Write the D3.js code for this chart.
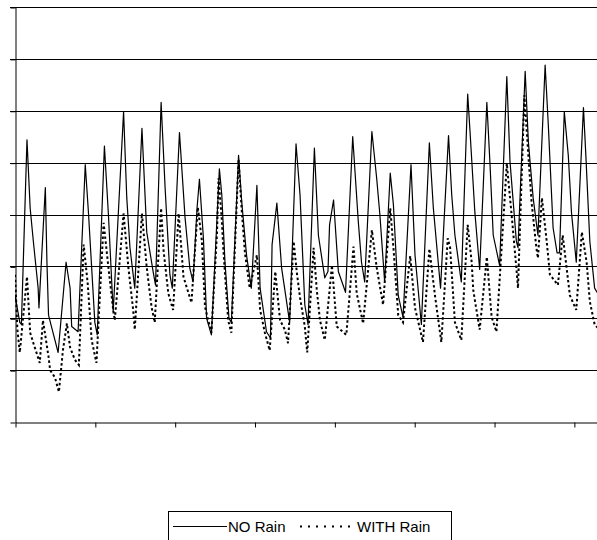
<!DOCTYPE html>
<html>
<head>
<meta charset="utf-8">
<script src="https://cdn.jsdelivr.net/npm/d3@7"></script>
<style>
  html, body { margin: 0; padding: 0; background: #fff; }
  svg { display: block; }
  text { font-family: Arial, "Liberation Sans", sans-serif; }
</style>
</head>
<body>
<svg id="chart" width="597" height="540"></svg>
<script>
// Hourly surface temperature, with and without rain (hour index, value)
const noRainHours = [0,6,8,15,19,23,29,30,38,40,42,46,54,64,69,71,79,88,92,100,103,112,117,123,136,140,144,150,159,165,173,176,183,188,194,197,206,213,219,223,228,231,236,240,246,256,259,263,268,271,280,284,290,296,303,307,315,320,322,328,334,344,352,357,363,367,375,380,388,392,394,399,405,414,423,430,434,438,447,453,457,463,470,474,480,486,496,501,509,519,524,533,543,547,551,559,567,570,576,582,591,595,599,607,616,620,628,630,639,643,649,655,664,668,674,679,682,688,693,697,703,712,715,720,726,733];
const noRainTemps = [12.2,9.6,9.4,27.2,20.6,17.4,12.9,11.0,22.6,15.4,10.3,9.1,6.7,15.4,12.9,9.2,8.7,24.8,20.2,9.6,8.4,26.6,20.0,10.6,29.9,21.6,16.8,12.9,28.3,18.3,14.5,13.2,30.8,22.6,14.2,12.9,27.9,19.7,14.8,13.5,20.6,23.4,17.7,10.0,8.4,24.4,21.9,15.4,10.0,9.6,25.7,21.2,16.1,12.9,22.8,12.9,8.7,8.1,17.1,21.1,14.8,9.6,26.8,21.9,11.3,9.4,26.4,18.0,13.9,14.5,19.0,21.4,14.5,12.5,27.5,19.3,15.4,13.5,28.0,23.5,20.0,13.5,24.0,20.9,12.2,10.1,24.8,16.1,9.4,26.9,20.6,12.9,27.6,21.9,18.0,13.5,31.6,27.9,20.2,14.7,30.8,24.8,18.0,15.1,33.3,25.1,17.4,16.8,33.8,27.0,21.6,18.0,34.4,28.6,18.7,16.3,16.3,29.9,25.7,20.2,15.4,30.3,25.7,17.4,12.9,12.0];

const withRainHours = [0,3,6,15,19,23,31,35,42,44,50,55,60,65,69,75,80,86,91,96,102,111,117,123,125,136,142,148,150,159,165,171,175,183,186,192,198,205,211,221,229,234,238,242,246,253,255,259,261,267,271,280,284,288,294,303,307,313,319,326,332,338,342,349,353,357,363,366,374,378,382,388,397,403,415,424,428,436,447,453,461,470,474,480,486,495,501,511,519,526,534,542,545,551,559,567,572,574,582,591,597,603,616,622,628,630,638,643,647,653,655,660,666,670,680,686,691,695,703,710,716,720,726,733];
const withRainTemps = [14.2,8.9,6.7,14.0,8.6,7.6,5.7,9.8,6.3,5.0,4.3,2.9,6.9,9.5,7.2,6.0,5.5,17.1,13.4,7.9,5.7,19.2,14.9,10.8,9.8,20.1,14.9,10.8,8.9,20.1,14.9,11.1,9.6,20.6,16.6,12.4,10.8,20.1,14.0,11.5,20.7,17.5,11.1,9.8,8.6,18.2,23.5,19.5,16.6,9.8,8.6,25.3,20.4,16.3,12.9,16.1,10.8,8.6,6.9,14.5,9.8,8.9,7.6,17.4,14.4,12.0,9.2,6.7,16.8,12.7,9.8,7.9,15.1,9.2,8.4,16.9,12.4,9.5,18.5,14.9,11.3,20.6,16.8,10.3,9.6,16.0,11.0,7.7,16.7,12.2,7.7,17.7,16.8,9.6,7.9,19.0,15.4,12.7,8.9,15.9,10.1,8.7,24.9,20.0,14.8,12.9,31.5,25.7,21.2,16.8,15.8,21.6,17.4,14.2,13.2,18.0,14.8,12.2,10.8,18.3,15.4,11.6,9.4,8.8];

const tickHours = [0, 100, 200, 300, 400, 500, 600, 700];
const gridTemps = [5, 10, 15, 20, 25, 30, 35, 40];
const legendLabels = ["NO Rain", "WITH Rain"];

const svg = d3.select("#chart");
const W = 597;

const x = d3.scaleLinear().domain([0, 744]).range([15, 609]);
const y = d3.scaleLinear().domain([0, 40]).range([422, 7]);

// horizontal gridlines
svg.append("g")
  .selectAll("line")
  .data(gridTemps)
  .join("line")
  .attr("x1", 10).attr("x2", W)
  .attr("y1", d => Math.round(y(d)) + 0.5)
  .attr("y2", d => Math.round(y(d)) + 0.5)
  .attr("stroke", "#000")
  .attr("stroke-width", 1);

// left axis: short outward ticks, no labels
const yAxis = svg.append("g")
  .attr("transform", "translate(15.5,0.5)")
  .call(d3.axisLeft(y).tickValues([0].concat(gridTemps)).tickSize(5).tickSizeOuter(0).tickFormat(""));
yAxis.select(".domain").attr("stroke", "#000");
yAxis.selectAll(".tick line").attr("stroke", "#000");

// bottom axis
const xAxis = svg.append("g")
  .attr("transform", "translate(0.5," + (Math.round(y(0)) + 0.5) + ")")
  .call(d3.axisBottom(x).tickValues(tickHours).tickSize(5).tickSizeOuter(0).tickFormat(""));
xAxis.select(".domain").attr("stroke", "#000");
xAxis.selectAll(".tick line").attr("stroke", "#000");

svg.append("clipPath").attr("id", "plot-clip")
  .append("rect").attr("x", 15).attr("y", 0).attr("width", W - 15).attr("height", 430);

const line = d3.line().x(d => x(d[0])).y(d => y(d[1]));

const withRain = d3.zip(withRainHours, withRainTemps);
const noRain = d3.zip(noRainHours, noRainTemps);

const plot = svg.append("g").attr("clip-path", "url(#plot-clip)");

plot.append("path")
  .datum(withRain)
  .attr("d", line)
  .attr("fill", "none")
  .attr("stroke", "#000")
  .attr("stroke-width", 2)
  .attr("stroke-dasharray", "2.5,2.5");

plot.append("path")
  .datum(noRain)
  .attr("d", line)
  .attr("fill", "none")
  .attr("stroke", "#000")
  .attr("stroke-width", 1.2)
  .attr("stroke-linejoin", "round");

// legend
const lg = svg.append("g");
lg.append("rect")
  .attr("x", 168.5).attr("y", 511.5).attr("width", 283).attr("height", 32)
  .attr("fill", "#fff").attr("stroke", "#000").attr("stroke-width", 1);

lg.append("line")
  .attr("x1", 173).attr("x2", 227).attr("y1", 526.5).attr("y2", 526.5)
  .attr("stroke", "#000").attr("stroke-width", 1);
lg.append("text")
  .attr("x", 228).attr("y", 532)
  .attr("font-size", 15)
  .text(legendLabels[0]);

lg.append("line")
  .attr("x1", 300).attr("x2", 356).attr("y1", 526.5).attr("y2", 526.5)
  .attr("stroke", "#000").attr("stroke-width", 1.8)
  .attr("stroke-dasharray", "2,6");
lg.append("text")
  .attr("x", 357).attr("y", 532)
  .attr("font-size", 15)
  .text(legendLabels[1]);
</script>
</body>
</html>
